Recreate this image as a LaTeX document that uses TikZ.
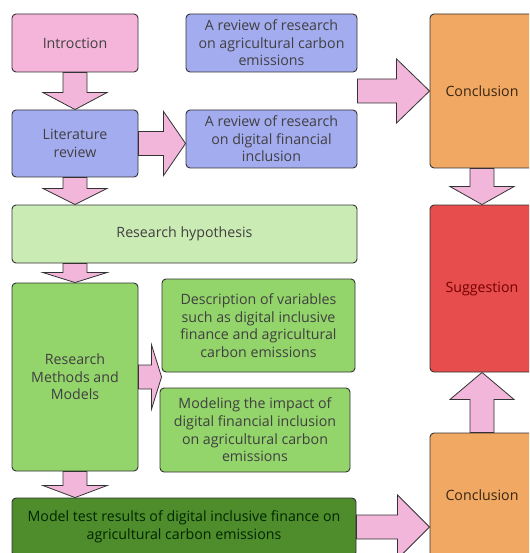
\documentclass[tikz,border=0pt]{standalone}
\usepackage{fontspec}
\setmainfont{Open Sans}
\usetikzlibrary{calc}
\definecolor{arrowpink}{HTML}{F2B6DA}
\definecolor{intropink}{HTML}{F5B5DA}
\definecolor{reviewblue}{HTML}{A4ACF0}
\definecolor{hypgreen}{HTML}{CBEBB4}
\definecolor{methgreen}{HTML}{93D46B}
\definecolor{testgreen}{HTML}{4E8C2C}
\definecolor{conclorange}{HTML}{F0A862}
\definecolor{suggred}{HTML}{E84D4D}
\definecolor{boxline}{HTML}{333333}
\tikzset{box/.style={draw=boxline, line width=0.9pt, rounded corners=4pt,
        align=center, inner sep=0pt, text=black!75,
        font=\fontsize{14.2}{17.6}\selectfont},
    fatline/.style={draw=boxline, line width=0.8pt, fill=arrowpink},
    }
% block arrow: from, to, head length
\newcommand\fatarrow[3]{%
  \path ($(#2)!#3!(#1)$) coordinate (fathead);
  \draw[fatline] ($(#1)!12pt!90:(#2)$) -- ($(fathead)!12pt!90:(#2)$)
    -- ($(fathead)!32pt!90:(#2)$) -- (#2) -- ($(fathead)!32pt!-90:(#2)$)
    -- ($(fathead)!12pt!-90:(#2)$) -- ($(#1)!12pt!-90:(#2)$) -- cycle;
}

\begin{document}
\begin{tikzpicture}[x=1pt,y=-1pt]
	\fill[white] (0,0) rectangle (529,553);
	\clip (0,0) rectangle (529,553);
	% left column
	\node[box, fill=intropink, minimum width=126pt, minimum height=58pt] (intro) at (75,43) {Introction};
	\node[box, fill=reviewblue, minimum width=126pt, minimum height=67pt] (lit) at (75,143.5) {Literature\\review};
	\node[box, fill=reviewblue, minimum width=171pt, minimum height=58pt] (agri) at (271.5,43) {A review of research\\on agricultural carbon\\emissions};
	\node[box, fill=reviewblue, minimum width=171pt, minimum height=58pt] (digital) at (271.5,139) {A review of research\\on digital financial\\inclusion};
	\node[box, fill=hypgreen, minimum width=345pt, minimum height=58pt] (hyp) at (184.5,234) {Research hypothesis};
	\node[box, fill=methgreen, minimum width=126pt, minimum height=188pt] (methods) at (75,377) {Research\\Methods and\\Models};
	\node[box, fill=methgreen, minimum width=193pt, minimum height=93pt] (desc) at (258.5,325.5) {Description of variables\\such as digital inclusive\\finance and agricultural\\carbon emissions};
	\node[box, fill=methgreen, minimum width=190pt, minimum height=84pt] (model) at (255,430) {Modeling the impact of\\digital financial inclusion\\on agricultural carbon\\emissions};
	\node[box, fill=testgreen, text=black!85!green, minimum width=344pt, minimum height=58pt] (test) at (184,527) {Model test results of digital inclusive finance on\\agricultural carbon emissions};
	% right column
	\node[box, fill=conclorange, text=black!70!brown, minimum width=104pt, minimum height=154pt] (concl1) at (482,91) {Conclusion};
	\node[box, fill=suggred, text=black!55!red, minimum width=104pt, minimum height=167pt] (sugg) at (482,288.5) {Suggestion};
	\node[box, fill=conclorange, text=black!70!brown, minimum width=104pt, minimum height=124pt] (concl2) at (482,495) {Conclusion};
	% arrow ends
	\coordinate (hypin) at (lit.south |- hyp.north);
	\coordinate (hypout) at (methods.north |- hyp.south);
	\coordinate (testin) at (methods.south |- test.north);
	\coordinate (digin) at (lit.east -| digital.west);
	\coordinate (agriout) at (agri.east |- concl1.west);
	\coordinate (gap) at (desc.west |- methods.east);
	\coordinate (conclin) at (test.east -| concl2.west);
	\fatarrow{intro.south}{lit.north}{17pt}
	\fatarrow{lit.south}{hypin}{16pt}
	\fatarrow{hypout}{methods.north}{10pt}
	\fatarrow{methods.south}{testin}{12pt}
	\fatarrow{lit.east}{digin}{22pt}
	\fatarrow{agriout}{concl1.west}{33pt}
	\fatarrow{methods.east}{gap}{10pt}
	\fatarrow{test.east}{conclin}{32pt}
	\fatarrow{concl1.south}{sugg.north}{18pt}
	\fatarrow{concl2.north}{sugg.south}{27pt}
\end{tikzpicture}
\end{document}
